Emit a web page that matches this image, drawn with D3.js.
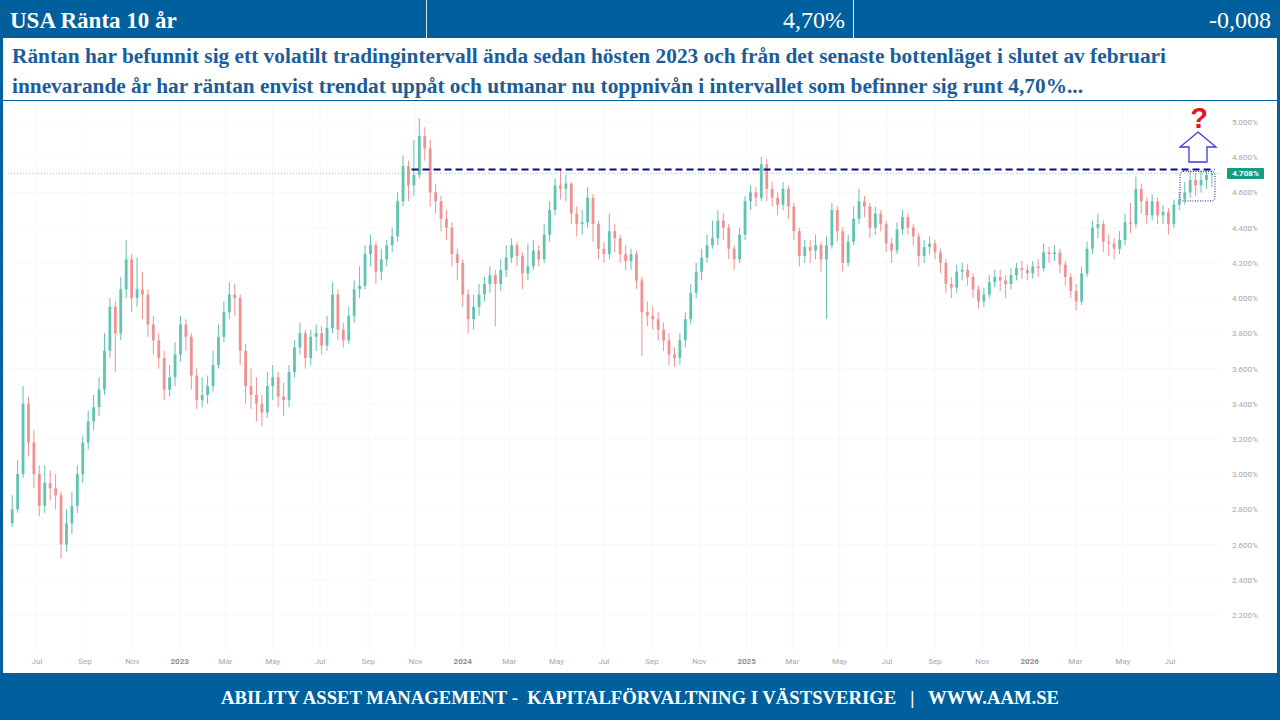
<!DOCTYPE html>
<html><head><meta charset="utf-8">
<script src="https://cdn.jsdelivr.net/npm/d3@7"></script>
<style>
html,body{margin:0;padding:0;background:#fff;}
svg{display:block;}
</style></head>
<body>
<svg id="c" width="1280" height="720"></svg>
<script>
// ---------- DATA ----------
const title = "USA Ränta 10 år";
const lastValueText = "4,70%";
const changeText = "-0,008";
const commentLines = [
  "Räntan har befunnit sig ett volatilt tradingintervall ända sedan hösten 2023 och från det senaste bottenläget i slutet av februari",
  "innevarande år har räntan envist trendat uppåt och utmanar nu toppnivån i intervallet som befinner sig runt 4,70%..."
];
const footerText = "ABILITY ASSET MANAGEMENT -  KAPITALFÖRVALTNING I VÄSTSVERIGE   |   WWW.AAM.SE";
const firstWeek = "2022-05-30";
const firstOpen = 2.72;
const closes = [2.80,3.00,3.40,3.18,3.00,2.82,2.95,2.92,2.88,2.60,
2.72,2.82,3.00,3.18,3.30,3.38,3.48,3.70,3.95,3.80,
4.05,4.22,4.00,4.05,4.02,3.85,3.76,3.66,3.48,3.55,
3.68,3.85,3.78,3.56,3.42,3.45,3.50,3.62,3.78,3.92,
4.02,4.00,3.70,3.50,3.45,3.40,3.35,3.50,3.55,3.44,
3.42,3.58,3.72,3.80,3.66,3.78,3.80,3.73,3.83,4.02,
3.82,3.76,3.90,4.05,4.07,4.25,4.30,4.15,4.22,4.30,
4.35,4.55,4.75,4.64,4.70,4.92,4.85,4.60,4.55,4.45,
4.40,4.25,4.20,4.02,3.88,3.95,4.02,4.08,4.13,4.08,
4.16,4.23,4.30,4.24,4.14,4.18,4.27,4.22,4.36,4.50,
4.64,4.62,4.65,4.48,4.42,4.43,4.57,4.42,4.28,4.25,
4.38,4.34,4.25,4.21,4.25,4.10,3.92,3.90,3.88,3.82,
3.76,3.68,3.66,3.76,3.88,4.03,4.15,4.23,4.30,4.34,
4.44,4.40,4.28,4.22,4.36,4.55,4.60,4.57,4.76,4.62,
4.57,4.53,4.62,4.52,4.38,4.24,4.29,4.27,4.30,4.22,
4.30,4.50,4.38,4.20,4.32,4.45,4.55,4.52,4.40,4.48,
4.42,4.31,4.27,4.39,4.46,4.40,4.35,4.24,4.29,4.31,
4.26,4.20,4.08,4.06,4.15,4.16,4.12,4.05,3.98,4.02,
4.09,4.12,4.10,4.08,4.13,4.17,4.16,4.14,4.18,4.17,
4.26,4.25,4.26,4.19,4.12,4.04,3.98,4.14,4.28,4.40,
4.42,4.32,4.31,4.28,4.33,4.43,4.42,4.62,4.55,4.47,
4.55,4.47,4.49,4.42,4.53,4.56,4.60,4.67,4.64,4.67,
4.70,4.708];
const highs = [2.88,3.08,3.50,3.44,3.25,3.05,3.05,3.02,3.00,2.90,
2.80,2.90,3.05,3.22,3.36,3.45,3.55,3.80,4.00,3.98,
4.12,4.33,4.25,4.23,4.15,4.05,3.90,3.80,3.70,3.62,
3.75,3.90,3.88,3.80,3.60,3.55,3.56,3.70,3.85,3.98,
4.09,4.08,4.02,3.74,3.60,3.55,3.45,3.58,3.62,3.58,
3.52,3.62,3.76,3.86,3.82,3.82,3.85,3.84,3.90,4.09,
4.05,3.86,3.95,4.10,4.18,4.30,4.36,4.32,4.28,4.33,
4.40,4.60,4.81,4.78,4.90,5.02,4.97,4.90,4.65,4.58,
4.50,4.43,4.28,4.22,4.05,4.02,4.08,4.12,4.18,4.16,
4.22,4.30,4.34,4.32,4.26,4.31,4.33,4.30,4.42,4.55,
4.68,4.73,4.70,4.66,4.52,4.50,4.63,4.59,4.44,4.32,
4.48,4.42,4.36,4.30,4.28,4.27,4.12,3.98,3.95,3.92,
3.86,3.80,3.72,3.80,3.92,4.08,4.20,4.28,4.36,4.44,
4.50,4.48,4.42,4.30,4.40,4.58,4.64,4.63,4.80,4.79,
4.66,4.60,4.66,4.64,4.54,4.40,4.33,4.33,4.36,4.32,
4.35,4.54,4.52,4.40,4.36,4.52,4.62,4.58,4.54,4.52,
4.50,4.44,4.34,4.43,4.50,4.48,4.42,4.37,4.33,4.35,
4.33,4.28,4.22,4.12,4.19,4.20,4.19,4.14,4.07,4.06,
4.13,4.16,4.16,4.13,4.17,4.20,4.21,4.19,4.21,4.22,
4.31,4.29,4.30,4.28,4.21,4.14,4.08,4.18,4.32,4.44,
4.48,4.44,4.36,4.34,4.38,4.48,4.54,4.69,4.65,4.57,
4.59,4.57,4.53,4.51,4.56,4.60,4.66,4.73,4.71,4.73,
4.73,4.73];
const lows = [2.70,2.78,2.98,3.10,2.92,2.76,2.78,2.85,2.80,2.52,
2.56,2.66,2.78,2.95,3.14,3.25,3.33,3.45,3.66,3.58,
3.76,4.00,3.92,3.95,3.88,3.78,3.68,3.60,3.42,3.44,
3.50,3.64,3.70,3.48,3.37,3.38,3.40,3.47,3.60,3.75,
3.88,3.90,3.62,3.40,3.37,3.30,3.27,3.32,3.42,3.38,
3.33,3.38,3.55,3.68,3.60,3.62,3.70,3.68,3.70,3.80,
3.76,3.72,3.74,3.86,4.00,4.05,4.18,4.08,4.10,4.18,
4.26,4.32,4.52,4.55,4.58,4.68,4.78,4.52,4.48,4.38,
4.33,4.18,4.10,3.95,3.80,3.82,3.90,3.98,4.03,3.84,
4.04,4.12,4.20,4.18,4.05,4.10,4.16,4.18,4.20,4.32,
4.47,4.56,4.55,4.42,4.35,4.36,4.40,4.32,4.22,4.20,
4.22,4.26,4.20,4.16,4.16,4.05,3.67,3.84,3.82,3.76,
3.70,3.62,3.61,3.62,3.72,3.85,4.00,4.10,4.20,4.28,
4.30,4.33,4.22,4.16,4.20,4.33,4.50,4.52,4.55,4.55,
4.52,4.47,4.50,4.45,4.33,4.18,4.20,4.20,4.22,4.15,
3.88,4.28,4.32,4.15,4.18,4.30,4.42,4.46,4.34,4.36,
4.38,4.26,4.20,4.25,4.36,4.36,4.30,4.18,4.20,4.25,
4.22,4.14,4.03,4.00,4.03,4.10,4.07,4.00,3.94,3.95,
4.00,4.06,4.04,4.00,4.05,4.10,4.11,4.10,4.11,4.12,
4.15,4.20,4.21,4.14,4.07,4.00,3.93,3.96,4.12,4.25,
4.34,4.26,4.24,4.22,4.25,4.30,4.37,4.40,4.48,4.42,
4.44,4.42,4.42,4.36,4.40,4.50,4.53,4.57,4.58,4.60,
4.62,4.63];
const yTicks = [2.2,2.4,2.6,2.8,3.0,3.2,3.4,3.6,3.8,4.0,4.2,4.4,4.6,4.8,5.0];
const monthNames = ["Jan","Feb","Mar","Apr","May","Jun","Jul","Aug","Sep","Oct","Nov","Dec"];
const lastPrice = 4.708;
const resistanceLevel = 4.73;
const resistanceStart = "2023-10-27";
const consolidationStart = "2026-07-14";
const consolidationRange = [4.58, 4.73];

// ---------- BUILD ----------
const svg = d3.select("#c");
const BLUE = "#00609d";
const TXT = "#1b5d99";
const serif = "'Liberation Serif','Times New Roman',serif";
const sans = "Roboto,'Liberation Sans',Arial,sans-serif";

const start = d3.timeParse("%Y-%m-%d")(firstWeek);
const data = closes.map((c,i)=>({
  date: d3.timeWeek.offset(start,i),
  o: i===0 ? firstOpen : closes[i-1],
  c: c, h: highs[i], l: lows[i]
}));

const x = d3.scaleTime().domain([new Date(2022,6,1), new Date(2026,6,1)]).range([37,1170]);
const y = d3.scaleLinear().domain([2.2,5.0]).range([615,122]);

// background frame
svg.append("rect").attr("width",1280).attr("height",720).attr("fill",BLUE);
svg.append("rect").attr("x",3).attr("y",38).attr("width",1274).attr("height",635).attr("fill","#fff");
svg.append("line").attr("x1",3).attr("x2",1277).attr("y1",100.5).attr("y2",100.5).attr("stroke",BLUE).attr("stroke-width",1.2);

// header
[426.5,853.5].forEach(v=>svg.append("line").attr("x1",v).attr("x2",v).attr("y1",0).attr("y2",38).attr("stroke","#dfe8f2").attr("stroke-width",1));
svg.append("text").attr("x",10).attr("y",28).attr("fill","#fff").attr("font-family",serif).attr("font-weight","bold").attr("font-size",23).text(title);
svg.append("text").attr("x",845).attr("y",28).attr("text-anchor","end").attr("fill","#fff").attr("font-family",serif).attr("font-size",24).text(lastValueText);
svg.append("text").attr("x",1271).attr("y",28).attr("text-anchor","end").attr("fill","#fff").attr("font-family",serif).attr("font-size",24).text(changeText);

// comment text
const lineLens = [1154, 1071];
commentLines.forEach((t,i)=>{
  svg.append("text").attr("x",12).attr("y",63+i*30).attr("fill",TXT).attr("font-family",serif)
    .attr("font-weight","bold").attr("font-size",20).attr("textLength",lineLens[i]).attr("lengthAdjust","spacingAndGlyphs").text(t);
});

// footer
svg.append("text").attr("x",221).attr("y",704).attr("fill","#fff").attr("font-family",serif)
  .attr("font-weight","bold").attr("font-size",18.5).attr("textLength",838).attr("lengthAdjust","spacingAndGlyphs")
  .style("white-space","pre").text(footerText);

// grid
const xTicks = d3.timeMonth.every(2).range(new Date(2022,6,1), new Date(2026,7,2));
const g = svg.append("g");
g.selectAll(".vg").data(xTicks).enter().append("line")
  .attr("x1",d=>x(d)).attr("x2",d=>x(d)).attr("y1",102).attr("y2",650).attr("stroke","#f6f7f9").attr("stroke-width",1);
g.selectAll(".hg").data(yTicks).enter().append("line")
  .attr("x1",3).attr("x2",1222).attr("y1",d=>y(d)).attr("y2",d=>y(d)).attr("stroke","#f7f8fa").attr("stroke-width",1);

// x labels
g.selectAll(".xl").data(xTicks).enter().append("text")
  .attr("x",d=>x(d)).attr("y",664).attr("text-anchor","middle").attr("font-family",sans).attr("font-size",8)
  .attr("font-weight",d=>d.getMonth()===0?"bold":"normal")
  .attr("fill",d=>d.getMonth()===0?"#8a8d94":"#a4a7ae")
  .text(d=>d.getMonth()===0?d.getFullYear():monthNames[d.getMonth()]);

// y labels
g.selectAll(".yl").data(yTicks).enter().append("text")
  .attr("x",1232).attr("y",d=>y(d)+3).attr("font-family",sans).attr("font-size",8).attr("fill","#a4a7ae")
  .text(d=>d3.format(".3f")(d)+"%");

// last price dotted line
svg.append("line").attr("x1",8).attr("x2",1222).attr("y1",y(lastPrice)).attr("y2",y(lastPrice))
  .attr("stroke","#8fd3c7").attr("stroke-width",1).attr("stroke-dasharray","1,2");

// candles
const cg = svg.append("g");
const bw = 2.8;
const up = "#62c3b0", dn = "#f09292";
cg.selectAll(".wick").data(data).enter().append("line")
  .attr("x1",d=>x(d.date)).attr("x2",d=>x(d.date)).attr("y1",d=>y(d.h)).attr("y2",d=>y(d.l))
  .attr("stroke",d=>d.c>=d.o?up:dn).attr("stroke-width",1);
cg.selectAll(".body").data(data).enter().append("rect")
  .attr("x",d=>x(d.date)-bw/2).attr("width",bw)
  .attr("y",d=>y(Math.max(d.o,d.c))).attr("height",d=>Math.max(1,Math.abs(y(d.o)-y(d.c))))
  .attr("fill",d=>d.c>=d.o?up:dn);

// resistance dashed line
const rs = d3.timeParse("%Y-%m-%d")(resistanceStart);
svg.append("line").attr("x1",x(rs)).attr("x2",1215).attr("y1",y(resistanceLevel)).attr("y2",y(resistanceLevel))
  .attr("stroke","#0a0a8c").attr("stroke-width",2).attr("stroke-dasharray","7,4");

// consolidation box
const cs = d3.timeParse("%Y-%m-%d")(consolidationStart);
svg.append("rect").attr("x",x(cs)).attr("y",y(consolidationRange[1])+2).attr("width",1215-x(cs))
  .attr("height",y(consolidationRange[0])-y(consolidationRange[1])+3).attr("rx",3)
  .attr("fill","none").attr("stroke","#1a1a9a").attr("stroke-width",1).attr("stroke-dasharray","1,1.5");

// up arrow
const ax = 1198;
svg.append("path")
  .attr("d",`M${ax},132 L${ax+18},147 L${ax+9},147 L${ax+9},162 L${ax-9},162 L${ax-9},147 L${ax-18},147 Z`)
  .attr("fill","#fff").attr("stroke","#3b3bdc").attr("stroke-width",1.3);
svg.append("text").attr("x",ax+1).attr("y",128).attr("text-anchor","middle").attr("fill","#e3161b")
  .attr("font-family","'Liberation Sans',Arial,sans-serif").attr("font-weight","bold").attr("font-size",29).text("?");

// last price label
svg.append("rect").attr("x",1227).attr("y",y(lastPrice)-5.5).attr("width",37).attr("height",11).attr("rx",1).attr("fill","#169c82");
svg.append("text").attr("x",1245.5).attr("y",y(lastPrice)+3).attr("text-anchor","middle").attr("font-family",sans)
  .attr("font-size",8).attr("font-weight","bold").attr("fill","#fff").text(d3.format(".3f")(lastPrice)+"%");
</script>
</body></html>
